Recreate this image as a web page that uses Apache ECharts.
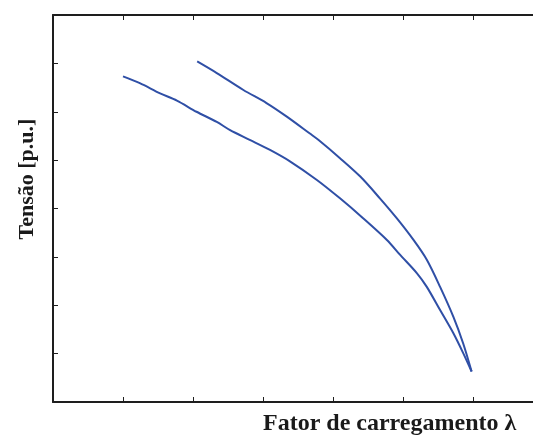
<!DOCTYPE html>
<html>
<head>
<meta charset="utf-8">
<script src="https://cdn.jsdelivr.net/npm/echarts@6/dist/echarts.min.js"></script>
<style>
  html, body { margin: 0; padding: 0; background: #ffffff; }
  #chart { width: 533px; height: 435px; }
</style>
</head>
<body>
<div id="chart"></div>
<script>
// PV curves: voltage versus loading factor (axis values unlabelled)
const upperLambda = [2.06, 2.34, 2.72, 3.05, 3.34, 3.67, 3.79, 4.10, 4.39, 4.67, 4.91, 5.15, 5.34, 5.53, 5.72, 5.86, 5.98];
const upperVoltage = [7.04, 6.80, 6.45, 6.18, 5.90, 5.55, 5.42, 5.04, 4.66, 4.21, 3.80, 3.35, 2.94, 2.38, 1.76, 1.21, 0.63];

const lowerLambda = [1.00, 1.24, 1.53, 1.77, 2.05, 2.34, 2.53, 2.81, 3.10, 3.39, 3.77, 4.10, 4.43, 4.77, 4.96, 5.20, 5.34, 5.53, 5.72, 5.86, 5.98];
const lowerVoltage = [6.73, 6.59, 6.38, 6.23, 6.00, 5.79, 5.62, 5.42, 5.21, 4.97, 4.59, 4.21, 3.80, 3.35, 3.04, 2.66, 2.38, 1.90, 1.42, 1.01, 0.63];

const xTitle = 'Fator de carregamento λ';
const yTitle = 'Tensão [p.u.]';

// the frame runs past the right edge of the canvas; the visible x range stops at 480/70 units
const xMin = 0;
const xMax = 480 / 70;
const yMin = 0;
const yMax = 8;

const pairs = (xs, ys) => xs.map((x, i) => [x, ys[i]]);

const lineColor = '#2f4fa6';
const axisColor = '#1e1e1e';
const fontFamily = '"Liberation Serif", "DejaVu Serif", serif';

function axisBase(extra) {
  return Object.assign({
    type: 'value',
    interval: 1,
    axisLine: { show: true, onZero: false, lineStyle: { color: axisColor, width: 2 } },
    axisTick: { show: true, inside: true, length: 5, lineStyle: { color: axisColor, width: 1 } },
    axisLabel: { show: false },
    splitLine: { show: false }
  }, extra);
}

const chart = echarts.init(document.getElementById('chart'), null, { renderer: 'canvas' });

chart.setOption({
  animation: false,
  backgroundColor: '#ffffff',
  grid: { left: 53, top: 15, width: 480, height: 387 },
  xAxis: [
    axisBase({ min: xMin, max: xMax, position: 'bottom' }),
    axisBase({ min: xMin, max: xMax, position: 'top' })
  ],
  yAxis: [
    axisBase({ min: yMin, max: yMax, position: 'left' })
  ],
  graphic: [
    {
      type: 'text',
      x: 263,
      y: 424,
      style: {
        text: xTitle,
        fontFamily: fontFamily,
        fontWeight: 'bold',
        fontSize: 24,
        fill: '#1a1a1a',
        textAlign: 'left',
        textVerticalAlign: 'middle'
      }
    },
    {
      type: 'text',
      x: 27,
      y: 179,
      rotation: Math.PI / 2,
      style: {
        text: yTitle,
        fontFamily: fontFamily,
        fontWeight: 'bold',
        fontSize: 22,
        fill: '#1a1a1a',
        textAlign: 'center',
        textVerticalAlign: 'middle'
      }
    }
  ],
  series: [
    {
      type: 'line',
      data: pairs(upperLambda, upperVoltage),
      smooth: 0.3,
      showSymbol: false,
      lineStyle: { color: lineColor, width: 2 }
    },
    {
      type: 'line',
      data: pairs(lowerLambda, lowerVoltage),
      smooth: 0.3,
      showSymbol: false,
      lineStyle: { color: lineColor, width: 2 }
    }
  ]
});
</script>
</body>
</html>
